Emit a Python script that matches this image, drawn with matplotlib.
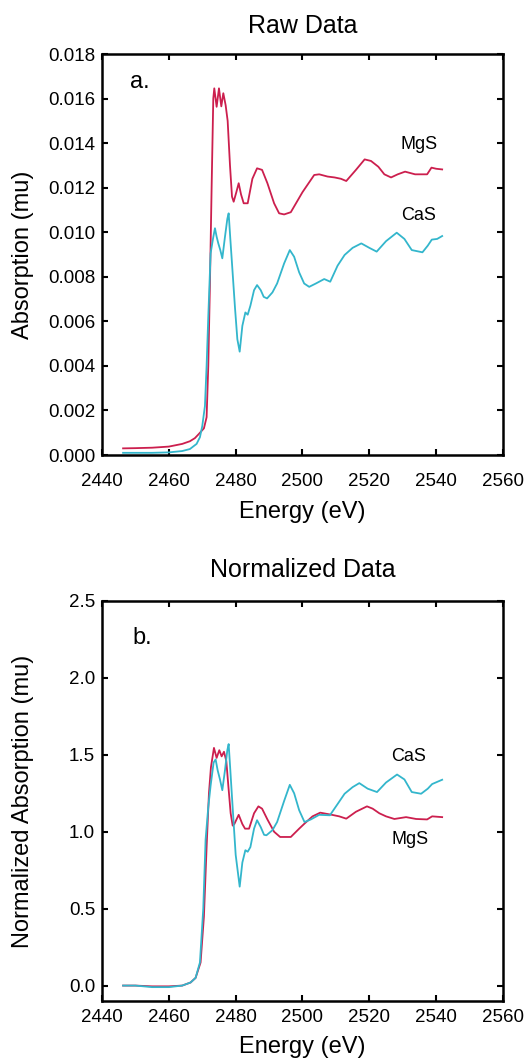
import matplotlib
matplotlib.use("Agg")
import matplotlib.pyplot as plt
from matplotlib.ticker import FormatStrFormatter, MultipleLocator

plt.rcParams['font.family'] = ['Liberation Sans', 'DejaVu Sans']

# ---------------- Data: raw absorption ----------------
e_mgs_raw = [2446.3, 2450, 2455, 2460, 2464, 2466.3, 2467.8, 2469, 2470.5, 2471.3, 2471.8,
             2472.3, 2472.8, 2473.3, 2473.6, 2474.3, 2475.0, 2475.7, 2476.3, 2477.0, 2477.6,
             2478.3, 2478.9, 2479.4, 2480.2, 2480.9, 2481.6, 2482.4, 2483.6, 2485.0, 2486.4,
             2487.9, 2489.5, 2491.5, 2493.0, 2494.5, 2496.5, 2500, 2503.5, 2505, 2507.5,
             2509.6, 2511.5, 2513.1, 2516, 2518.6, 2520.5, 2522.7, 2524.5, 2526.5, 2528.5,
             2530.7, 2533.7, 2537.3, 2538.6, 2540, 2541.8]
mu_mgs_raw = [0.00030, 0.00031, 0.00033, 0.00038, 0.00050, 0.00062, 0.00076, 0.00095, 0.00120,
              0.00170, 0.00400, 0.00770, 0.01200, 0.01600, 0.01646, 0.01563, 0.01646, 0.01565,
              0.01624, 0.01570, 0.01500, 0.01300, 0.01160, 0.01137, 0.01180, 0.01220, 0.01170,
              0.01130, 0.01130, 0.01240, 0.01287, 0.01280, 0.01220, 0.01130, 0.01085, 0.01080,
              0.01090, 0.01180, 0.01257, 0.01260, 0.01250, 0.01246, 0.01240, 0.01230, 0.01280,
              0.01327, 0.01320, 0.01294, 0.01260, 0.01246, 0.01260, 0.01272, 0.01260, 0.01260,
              0.01290, 0.01285, 0.01282]

e_cas_raw = [2446.3, 2450, 2455, 2460, 2464, 2466.3, 2468.3, 2469.3, 2470.0, 2470.8, 2471.3,
             2471.8, 2472.5, 2473.2, 2473.8, 2474.3, 2474.8, 2475.4, 2476.0, 2476.8, 2477.5,
             2477.9, 2478.4, 2478.9, 2479.8, 2480.5, 2481.2, 2482.0, 2482.9, 2483.6, 2484.4,
             2485.5, 2486.4, 2487.5, 2488.4, 2489.4, 2491, 2492.4, 2494.5, 2496.2, 2497.5,
             2499, 2500.5, 2502.0, 2504, 2506.5, 2508.3, 2510.5, 2512.6, 2515, 2517.6, 2520,
             2522.2, 2525, 2528.2, 2530.5, 2532.7, 2535.9, 2537.5, 2538.7, 2540.3, 2541.8]
mu_cas_raw = [0.00010, 0.00010, 0.00010, 0.00012, 0.00018, 0.00027, 0.00050, 0.00080, 0.00130,
              0.00220, 0.00400, 0.00620, 0.00905, 0.00970, 0.01018, 0.00980, 0.00950, 0.00920,
              0.00883, 0.00980, 0.01060, 0.01085, 0.00970, 0.00860, 0.00660, 0.00520, 0.00464,
              0.00580, 0.00640, 0.00630, 0.00670, 0.00740, 0.00763, 0.00740, 0.00710, 0.00703,
              0.00730, 0.00770, 0.00860, 0.00920, 0.00890, 0.00820, 0.00770, 0.00755, 0.00770,
              0.00790, 0.00778, 0.00850, 0.00898, 0.00930, 0.00950, 0.00930, 0.00913, 0.00960,
              0.00998, 0.00970, 0.00920, 0.00910, 0.00940, 0.00967, 0.00970, 0.00983]

# ---------------- Data: normalized absorption ----------------
e_mgs_norm = [2446.3, 2450, 2455, 2460, 2464, 2466.5, 2468, 2469.5, 2470.5, 2471.3, 2472.0,
              2472.6, 2473.5, 2474.3, 2475.1, 2475.8, 2476.5, 2477.2, 2477.8, 2478.5, 2479.1,
              2479.6, 2480.9, 2482.0, 2482.8, 2484.0, 2485.5, 2486.8, 2487.9, 2489.5, 2491.5,
              2493.3, 2496.5, 2499, 2500.6, 2503, 2505.3, 2508.8, 2511, 2513.1, 2516, 2519.3,
              2521, 2523, 2525, 2527.5, 2531, 2534, 2537.3, 2538.8, 2541.8]
mu_mgs_norm = [0.00, 0.00, -0.005, -0.005, 0.00, 0.02, 0.05, 0.15, 0.45, 0.90, 1.25, 1.42,
               1.545, 1.48, 1.53, 1.49, 1.52, 1.46, 1.30, 1.12, 1.04, 1.05, 1.11, 1.05, 1.02,
               1.02, 1.12, 1.165, 1.15, 1.08, 1.00, 0.966, 0.966, 1.02, 1.053, 1.10, 1.124,
               1.11, 1.10, 1.085, 1.13, 1.165, 1.15, 1.12, 1.10, 1.083, 1.095, 1.083, 1.08,
               1.10, 1.095]

e_cas_norm = [2446.3, 2450, 2455, 2460, 2464, 2466.5, 2468, 2469.3, 2470.3, 2471.0, 2471.8,
              2472.5, 2473.4, 2474.0, 2474.6, 2475.3, 2476.0, 2476.8, 2477.5, 2477.9, 2478.4,
              2478.9, 2480.0, 2481.2, 2482.0, 2482.9, 2483.6, 2484.4, 2485.5, 2486.4, 2487.5,
              2488.5, 2489.2, 2491, 2492.4, 2494.5, 2496.2, 2497.5, 2499, 2500.6, 2502.5, 2505,
              2508.2, 2510.5, 2512.6, 2515, 2517, 2519.5, 2522.3, 2525, 2528.3, 2530.5, 2532.7,
              2535.5, 2537.5, 2538.8, 2541.8]
mu_cas_norm = [0.00, 0.00, -0.01, -0.01, 0.00, 0.02, 0.05, 0.15, 0.50, 0.95, 1.16, 1.30, 1.45,
               1.47, 1.40, 1.34, 1.27, 1.40, 1.53, 1.57, 1.40, 1.225, 0.85, 0.643, 0.80, 0.88,
               0.87, 0.90, 1.02, 1.075, 1.03, 0.98, 0.977, 1.01, 1.063, 1.20, 1.305, 1.25, 1.14,
               1.063, 1.08, 1.11, 1.107, 1.18, 1.247, 1.29, 1.316, 1.28, 1.258, 1.32, 1.372,
               1.34, 1.258, 1.247, 1.28, 1.31, 1.338]

x_ticks = [2440, 2460, 2480, 2500, 2520, 2540, 2560]

MGS_COLOR = '#cc1f4e'
CAS_COLOR = '#33b6cc'

fig = plt.figure(figsize=(5.30, 10.59), dpi=100)
ax1 = fig.add_axes([0.1925, 0.5703, 0.7565, 0.3787])
ax2 = fig.add_axes([0.1925, 0.0548, 0.7565, 0.3777])

TICK_FS = 13.5
LABEL_FS = 17
TITLE_FS = 18
PANEL_FS = 17


def style(ax, xpad):
    for s in ax.spines.values():
        s.set_linewidth(1.8)
    ax.tick_params(direction='in', top=True, right=True, length=4, width=1.5,
                   labelsize=TICK_FS)
    ax.tick_params(axis='x', pad=xpad)
    ax.tick_params(axis='y', pad=5)
    ax.set_xlim(2440, 2560)
    ax.set_xticks(x_ticks)


# ---- top panel ----
ax1.plot(e_mgs_raw, mu_mgs_raw, color=MGS_COLOR, lw=1.3)
ax1.plot(e_cas_raw, mu_cas_raw, color=CAS_COLOR, lw=1.3)
style(ax1, 13)
ax1.set_ylim(0, 0.018)
ax1.yaxis.set_major_locator(MultipleLocator(0.002))
ax1.yaxis.set_major_formatter(FormatStrFormatter('%.3f'))
ax1.set_title('Raw Data', fontsize=TITLE_FS, pad=15)
ax1.set_xlabel('Energy (eV)', fontsize=LABEL_FS)
ax1.set_ylabel('Absorption (mu)', fontsize=LABEL_FS)
ax1.xaxis.set_label_coords(0.5, -0.115)
ax1.yaxis.set_label_coords(-0.17, 0.5)
ax1.text(0.07, 0.93, 'a.', transform=ax1.transAxes, fontsize=PANEL_FS, va='center')
ax1.text(2529.4, 0.01392, 'MgS', fontsize=13, va='center')
ax1.text(2529.4, 0.01077, 'CaS', fontsize=13, va='center')

# ---- bottom panel ----
ax2.plot(e_mgs_norm, mu_mgs_norm, color=MGS_COLOR, lw=1.3)
ax2.plot(e_cas_norm, mu_cas_norm, color=CAS_COLOR, lw=1.3)
style(ax2, 6)
ax2.set_ylim(-0.1, 2.5)
ax2.yaxis.set_major_locator(MultipleLocator(0.5))
ax2.yaxis.set_major_formatter(FormatStrFormatter('%.1f'))
ax2.set_title('Normalized Data', fontsize=TITLE_FS, pad=17)
ax2.set_xlabel('Energy (eV)', fontsize=LABEL_FS)
ax2.set_ylabel('Normalized Absorption (mu)', fontsize=LABEL_FS)
ax2.xaxis.set_label_coords(0.5, -0.088)
ax2.yaxis.set_label_coords(-0.17, 0.5)
ax2.text(0.075, 0.907, 'b.', transform=ax2.transAxes, fontsize=PANEL_FS, va='center')
ax2.text(2526.5, 1.489, 'CaS', fontsize=13, va='center')
ax2.text(2526.5, 0.947, 'MgS', fontsize=13, va='center')

fig.savefig('out.png', dpi=100)
